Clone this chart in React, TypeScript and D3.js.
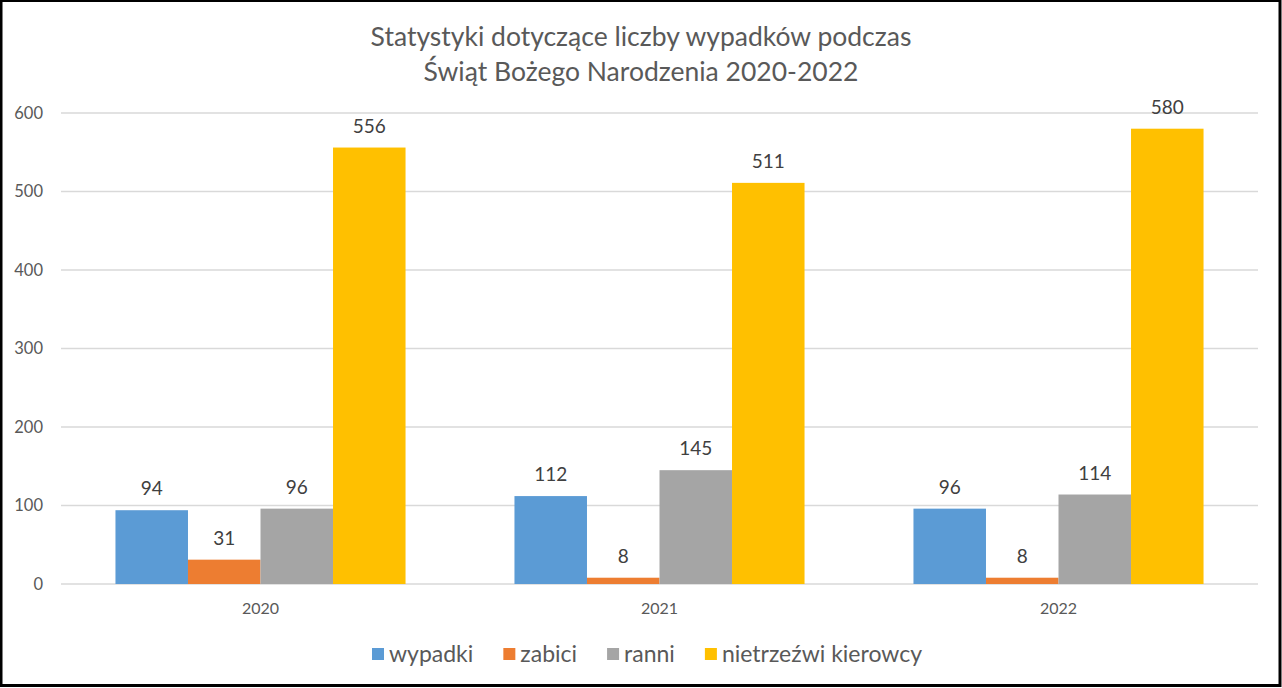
import React, { useEffect, useRef } from 'react';
import * as d3 from 'd3';

const years = ['2020', '2021', '2022'];
const seriesNames = ['wypadki', 'zabici', 'ranni', 'nietrzeźwi kierowcy'];
const wypadki = [94, 112, 96];
const zabici = [31, 8, 8];
const ranni = [96, 145, 114];
const nietrzezwi = [556, 511, 580];
const yTicks = [0, 100, 200, 300, 400, 500, 600];
const colors = ['#5b9bd5', '#ed7d31', '#a5a5a5', '#ffc000'];

const W = 1282;
const H = 688;
const FONT = 'Lato, "Open Sans", sans-serif';

export default function App() {
  const svgRef = useRef<SVGSVGElement | null>(null);

  useEffect(() => {
    if (!svgRef.current) return;
    const svg = d3.select(svgRef.current);
    svg.selectAll('*').remove();

    const values = [wypadki, zabici, ranni, nietrzezwi];
    const left = 61, right = 1258, top = 113, bottom = 584;

    svg.append('rect').attr('width', W).attr('height', H).attr('fill', '#fff');
    svg.append('rect')
      .attr('x', 1).attr('y', 0.5).attr('width', W - 3).attr('height', H - 3)
      .attr('fill', 'none').attr('stroke', '#000').attr('stroke-width', 3);

    // Title
    const title = svg.append('text')
      .attr('text-anchor', 'middle')
      .attr('font-family', FONT).attr('font-size', 26.5).attr('fill', '#595959');
    title.append('tspan').attr('x', 641).attr('y', 46).text('Statystyki dotyczące liczby wypadków podczas');
    title.append('tspan').attr('x', 641).attr('y', 81).text('Świąt Bożego Narodzenia 2020-2022');

    const y = d3.scaleLinear().domain([0, 600]).range([bottom, top]);
    const x0 = d3.scaleBand<string>().domain(years).range([left, right])
      .paddingInner(0.273).paddingOuter(0.1365);
    const x1 = d3.scaleBand<string>().domain(seriesNames).range([0, x0.bandwidth()]);

    // Grid
    svg.append('g').selectAll('line').data(yTicks).enter().append('line')
      .attr('x1', left).attr('x2', right)
      .attr('y1', d => y(d)).attr('y2', d => y(d))
      .attr('stroke', '#d9d9d9').attr('stroke-width', 1.5);

    svg.append('g').selectAll('text').data(yTicks).enter().append('text')
      .attr('x', 43).attr('y', d => y(d)).attr('dy', '0.35em')
      .attr('text-anchor', 'end')
      .attr('font-family', FONT).attr('font-size', 16.5).attr('fill', '#595959')
      .text(d => d);

    // Bars
    years.forEach((yr, i) => {
      const g = svg.append('g').attr('transform', `translate(${x0(yr)},0)`);
      seriesNames.forEach((s, j) => {
        const v = values[j][i];
        g.append('rect')
          .attr('x', x1(s)!).attr('width', x1.bandwidth())
          .attr('y', y(v)).attr('height', y(0) - y(v))
          .attr('fill', colors[j]);
        g.append('text')
          .attr('x', x1(s)! + x1.bandwidth() / 2).attr('y', y(v) - 15)
          .attr('text-anchor', 'middle')
          .attr('font-family', FONT).attr('font-size', 19).attr('fill', '#404040')
          .text(v);
      });
      svg.append('text')
        .attr('x', x0(yr)! + x0.bandwidth() / 2).attr('y', 614)
        .attr('text-anchor', 'middle')
        .attr('font-family', FONT).attr('font-size', 16).attr('fill', '#595959')
        .text(yr);
    });

    // Legend
    const legend = svg.append('g');
    let cx = 0;
    const gap = 30;
    seriesNames.forEach((s, j) => {
      const item = legend.append('g').attr('transform', `translate(${cx},0)`);
      item.append('rect').attr('x', 0).attr('y', -6).attr('width', 12).attr('height', 12).attr('fill', colors[j]);
      const t = item.append('text')
        .attr('x', 17).attr('y', 0).attr('dy', '0.35em')
        .attr('font-family', FONT).attr('font-size', 23).attr('fill', '#595959')
        .text(s);
      const tw = (t.node() as SVGTextElement).getComputedTextLength();
      cx += 17 + tw + gap;
    });
    const total = cx - gap;
    legend.attr('transform', `translate(${647 - total / 2},654)`);
  }, []);

  return (
    <div style={{ position: 'absolute', left: 0, top: 0 }}>
      <svg ref={svgRef} width={W} height={H} style={{ display: 'block' }} />
    </div>
  );
}
